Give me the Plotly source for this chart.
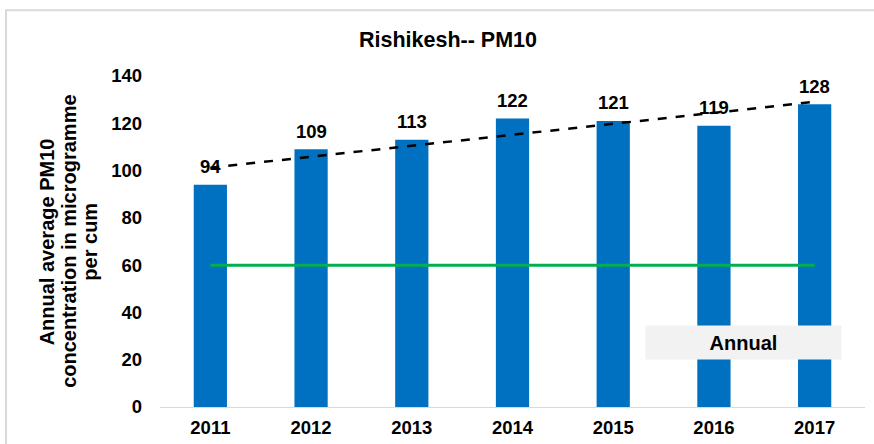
import numpy as np
import plotly.graph_objects as go

# Annual average PM10 readings, Rishikesh
years = ["2011", "2012", "2013", "2014", "2015", "2016", "2017"]
pm10 = [94, 109, 113, 122, 121, 119, 128]
annual_standard = [60, 60, 60, 60, 60, 60, 60]
y_ticks = [0, 20, 40, 60, 80, 100, 120, 140]
y_title_lines = ["Annual average PM10", "concentration in microgramme", "per cum"]

FONT = "Liberation Sans, Arial, sans-serif"
TICK_SIZE = 18.5

# Linear trend fitted over the series
idx = np.arange(len(years))
slope, intercept = np.polyfit(idx, pm10, 1)
trend = slope * idx + intercept

fig = go.Figure()

fig.add_trace(go.Bar(
    x=years, y=pm10, width=0.33,
    marker=dict(color="#0070c0", line=dict(width=0)),
    showlegend=False, hoverinfo="x+y",
))

fig.add_trace(go.Scatter(
    x=years, y=annual_standard, mode="lines",
    line=dict(color="#00b050", width=3), showlegend=False,
))

fig.add_trace(go.Scatter(
    x=years, y=trend, mode="lines",
    line=dict(color="#000000", width=2.5, dash="dash"), showlegend=False,
))

annotations = []

# value labels above each bar (category index on the x axis)
for i, v in enumerate(pm10):
    annotations.append(dict(
        x=i, y=v, xref="x", yref="y", text=f"<b>{v}</b>", showarrow=False,
        xanchor="center", yanchor="middle", yshift=18,
        font=dict(family=FONT, size=TICK_SIZE, color="#000000"),
    ))

# rotated three-line y-axis title
for line, xp in zip(y_title_lines, [-0.1605, -0.1300, -0.1005]):
    annotations.append(dict(
        x=xp, y=0.5, xref="paper", yref="paper", text=f"<b>{line}</b>",
        textangle=-90, showarrow=False, xanchor="center", yanchor="middle",
        font=dict(family=FONT, size=20, color="#000000"),
    ))

# legend-style label for the standard line
annotations.append(dict(
    text="<b>Annual</b>", xref="paper", yref="paper",
    x=0.8277, y=0.1949, xanchor="center", yanchor="middle", showarrow=False,
    font=dict(family=FONT, size=20, color="#000000"),
    bgcolor="#f2f2f2", width=193, height=31,
))

fig.update_layout(
    width=874, height=444,
    margin=dict(l=160, r=9, t=76, b=37, autoexpand=False),
    paper_bgcolor="white", plot_bgcolor="white",
    font=dict(family=FONT, color="#000000"),
    title=dict(text="<b>Rishikesh-- PM10</b>", x=0.5126, xref="container",
               xanchor="center", y=0.91, yref="container", yanchor="middle",
               font=dict(family=FONT, size=21.5, color="#000000")),
    xaxis=dict(
        type="category", automargin=False,
        showgrid=False, showline=True, linecolor="#d9d9d9", linewidth=1,
        tickfont=dict(family=FONT, size=TICK_SIZE, color="#000000"),
        ticklabelstandoff=4, range=[-0.5, 6.5],
        tickprefix="<b>", ticksuffix="</b>",
    ),
    yaxis=dict(
        range=[0, 140], tickvals=y_ticks, automargin=False,
        ticktext=[f"<b>{t}</b>" for t in y_ticks],
        showgrid=False, zeroline=False, showline=False,
        tickfont=dict(family=FONT, size=TICK_SIZE, color="#000000"),
        ticklabelstandoff=17,
    ),
    shapes=[
        dict(type="rect", xref="paper", yref="paper",
             x0=-0.2184, x1=1.03, y0=-0.2, y1=1.199,
             line=dict(color="#d9d9d9", width=2), fillcolor="rgba(0,0,0,0)",
             layer="below"),
    ],
    annotations=annotations,
)

fig.write_html("out.html")
